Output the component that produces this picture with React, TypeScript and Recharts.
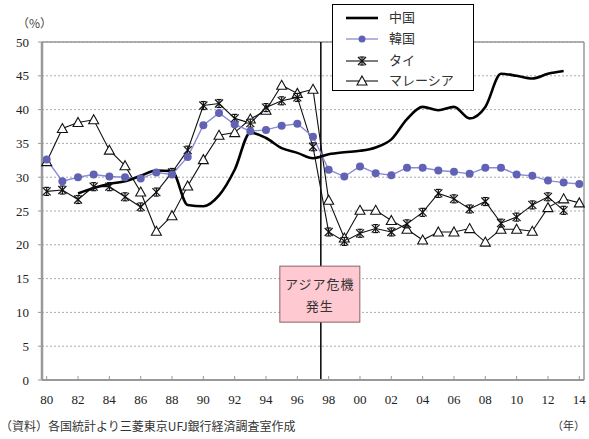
import React from 'react';
import { LineChart, Line, XAxis, YAxis, CartesianGrid, ReferenceLine, ReferenceDot } from 'recharts';

const years = [1980, 1981, 1982, 1983, 1984, 1985, 1986, 1987, 1988, 1989, 1990, 1991, 1992, 1993, 1994, 1995, 1996, 1997, 1998, 1999, 2000, 2001, 2002, 2003, 2004, 2005, 2006, 2007, 2008, 2009, 2010, 2011, 2012, 2013, 2014];
const china = [null, null, 27.6, 28.4, 29.0, 29.4, 30.2, 31.0, 30.9, 25.9, 25.7, 27.3, 31.1, 36.6, 35.8, 34.3, 33.6, 32.8, 33.4, 33.7, 33.9, 34.4, 35.6, 38.6, 40.4, 39.9, 40.4, 38.7, 40.4, 45.3, 45.0, 44.6, 45.3, 45.7, null];
const korea = [32.6, 29.4, 30.0, 30.4, 30.1, 30.0, 29.8, 30.7, 30.4, 33.0, 37.7, 39.5, 37.8, 36.8, 37.0, 37.6, 37.9, 36.0, 31.1, 30.1, 31.6, 30.6, 30.3, 31.4, 31.4, 31.0, 30.8, 30.5, 31.4, 31.4, 30.4, 30.2, 29.5, 29.2, 29.0];
const thai = [27.9, 28.1, 26.7, 28.6, 28.6, 27.1, 25.6, 27.8, 30.7, 34.0, 40.6, 40.9, 38.7, 38.0, 40.3, 41.3, 41.8, 34.5, 21.9, 20.5, 21.7, 22.4, 21.9, 23.1, 24.8, 27.6, 26.8, 25.3, 26.4, 23.2, 24.1, 25.9, 27.1, 25.1, null];
const malaysia = [32.3, 37.2, 38.1, 38.5, 34.0, 31.7, 27.8, 22.0, 24.3, 28.7, 32.6, 36.2, 36.6, 38.6, 39.9, 43.6, 42.4, 43.0, 26.6, 21.0, 25.1, 25.1, 23.6, 22.3, 20.7, 21.9, 21.9, 22.4, 20.4, 22.3, 22.3, 22.0, 25.5, 26.8, 26.2];
const seriesNames = ['中国', '韓国', 'タイ', 'マレーシア'];
const xTicks = [1980, 1982, 1984, 1986, 1988, 1990, 1992, 1994, 1996, 1998, 2000, 2002, 2004, 2006, 2008, 2010, 2012, 2014];
const yTicks = [0, 5, 10, 15, 20, 25, 30, 35, 40, 45, 50];
const crisisYear = 1997.5;
const crisisLabel = ['アジア危機', '発生'];
const sourceNote = '（資料）各国統計より三菱東京UFJ銀行経済調査室作成';

const data = years.map((y, i) => ({
  year: y,
  china: china[i],
  korea: korea[i],
  thai: thai[i],
  malaysia: malaysia[i],
}));

const KOREA_LINE = '#8a8ad8';
const KOREA_DOT = '#6262b4';
const JP = '"Noto Sans CJK JP", "Noto Sans", sans-serif';
const SERIF = '"Liberation Serif", "DejaVu Serif", serif';

const StarDot = (p: any) => {
  const { cx, cy, index } = p;
  if (cx == null || cy == null || p.value == null) return <g key={`t-${index}`} />;
  const s = 4;
  return (
    <g key={`t-${index}`} stroke="#111" strokeWidth={1.2}>
      <line x1={cx - s} y1={cy - s} x2={cx + s} y2={cy + s} />
      <line x1={cx - s} y1={cy + s} x2={cx + s} y2={cy - s} />
      <line x1={cx} y1={cy - s} x2={cx} y2={cy + s} />
      <line x1={cx - 2.5} y1={cy - s} x2={cx + 2.5} y2={cy - s} />
      <line x1={cx - 2.5} y1={cy + s} x2={cx + 2.5} y2={cy + s} />
    </g>
  );
};

const TriDot = (p: any) => {
  const { cx, cy, index } = p;
  if (cx == null || cy == null || p.value == null) return <g key={`m-${index}`} />;
  return (
    <polygon
      key={`m-${index}`}
      points={`${cx},${cy - 5} ${cx + 5},${cy + 4} ${cx - 5},${cy + 4}`}
      fill="#fff"
      stroke="#111"
      strokeWidth={1.1}
    />
  );
};

const CrisisBox = (p: any) => {
  const { cx, cy } = p;
  if (cx == null || cy == null) return <g />;
  return (
    <g>
      <rect x={cx - 41} y={cy - 28} width={80} height={56} fill="#ffc9d1" stroke="#8a6464" strokeWidth={1} />
      <text x={cx - 1} y={cy - 9} textAnchor="middle" dominantBaseline="middle" fontFamily={JP} fontSize={13} fill="#333" letterSpacing={1}>
        {crisisLabel[0]}
      </text>
      <text x={cx - 1} y={cy + 13} textAnchor="middle" dominantBaseline="middle" fontFamily={JP} fontSize={13} fill="#333" letterSpacing={1}>
        {crisisLabel[1]}
      </text>
    </g>
  );
};

const LegendBox = () => {
  const rows = [13, 34, 56, 76];
  return (
    <div style={{ position: 'absolute', left: 332, top: 4, width: 140, height: 85, border: '1px solid #000', background: '#fff' }}>
      <svg width={140} height={85} style={{ display: 'block' }}>
        <line x1={13} x2={45} y1={rows[0]} y2={rows[0]} stroke="#000" strokeWidth={2.6} />
        <line x1={13} x2={45} y1={rows[1]} y2={rows[1]} stroke={KOREA_LINE} strokeWidth={1.3} />
        <circle cx={29} cy={rows[1]} r={3.5} fill={KOREA_DOT} />
        <line x1={13} x2={45} y1={rows[2]} y2={rows[2]} stroke="#111" strokeWidth={1.1} />
        {StarDot({ cx: 29, cy: rows[2], index: 'lg', value: 1 })}
        <line x1={13} x2={45} y1={rows[3]} y2={rows[3]} stroke="#111" strokeWidth={1.1} />
        {TriDot({ cx: 29, cy: rows[3], index: 'lg', value: 1 })}
        {seriesNames.map((n, i) => (
          <text key={n} x={56} y={rows[i]} dominantBaseline="middle" fontFamily={JP} fontSize={13} fill="#333">
            {n}
          </text>
        ))}
      </svg>
    </div>
  );
};

export default function App() {
  return (
    <div style={{ position: 'absolute', left: 0, top: 0, width: 589, height: 439, background: '#fff', overflow: 'hidden' }}>
      <LineChart width={589} height={439} data={data} margin={{ top: 42, right: 5, bottom: 29, left: 0 }}>
        <CartesianGrid vertical={false} stroke="#aaa" strokeDasharray="2 2" />
        <XAxis
          dataKey="year"
          type="number"
          domain={[1979.7, 2014.3]}
          ticks={xTicks}
          tickFormatter={(v: number) => String(v % 100).padStart(2, '0')}
          height={30}
          axisLine={{ stroke: '#999', strokeWidth: 2 }}
          tickLine={{ stroke: '#999' }}
          tickSize={-4}
          tickMargin={19}
          tick={{ fontFamily: SERIF, fontSize: 13, fill: '#222' }}
          interval={0}
        />
        <YAxis
          type="number"
          domain={[0, 50]}
          ticks={yTicks}
          width={42}
          axisLine={{ stroke: '#999', strokeWidth: 2.5 }}
          tickLine={{ stroke: '#999' }}
          tickSize={4}
          tickMargin={9}
          tick={{ fontFamily: SERIF, fontSize: 13, fill: '#222' }}
          interval={0}
        />
        <ReferenceLine y={50} stroke="#999" strokeWidth={1.5} />
        <ReferenceLine x={2014.3} stroke="#999" strokeWidth={1.5} />
        <ReferenceLine x={crisisYear} stroke="#000" strokeWidth={1.5} />
        <Line dataKey="malaysia" name={seriesNames[3]} stroke="#111" strokeWidth={1.1} dot={TriDot} activeDot={false} isAnimationActive={false} type="linear" />
        <Line dataKey="thai" name={seriesNames[2]} stroke="#111" strokeWidth={1.1} dot={StarDot} activeDot={false} isAnimationActive={false} type="linear" />
        <Line dataKey="korea" name={seriesNames[1]} stroke={KOREA_LINE} strokeWidth={1.4} dot={{ r: 4, fill: KOREA_DOT, stroke: KOREA_DOT, strokeWidth: 0 }} activeDot={false} isAnimationActive={false} type="linear" />
        <Line dataKey="china" name={seriesNames[0]} stroke="#000" strokeWidth={2.6} dot={false} activeDot={false} isAnimationActive={false} type="monotone" connectNulls={false} />
        <ReferenceDot x={crisisYear} y={12.7} r={0} shape={CrisisBox} />
      </LineChart>
      <LegendBox />
      <div style={{ position: 'absolute', left: 17, top: 14, fontFamily: JP, fontSize: 12, color: '#444', whiteSpace: 'nowrap' }}>（%）</div>
      <div style={{ position: 'absolute', left: 0, top: 417, fontFamily: JP, fontSize: 12, color: '#333', whiteSpace: 'nowrap' }}>{sourceNote}</div>
      <div style={{ position: 'absolute', left: 552, top: 417, fontFamily: JP, fontSize: 11, color: '#333', whiteSpace: 'nowrap' }}>（年）</div>
    </div>
  );
}
